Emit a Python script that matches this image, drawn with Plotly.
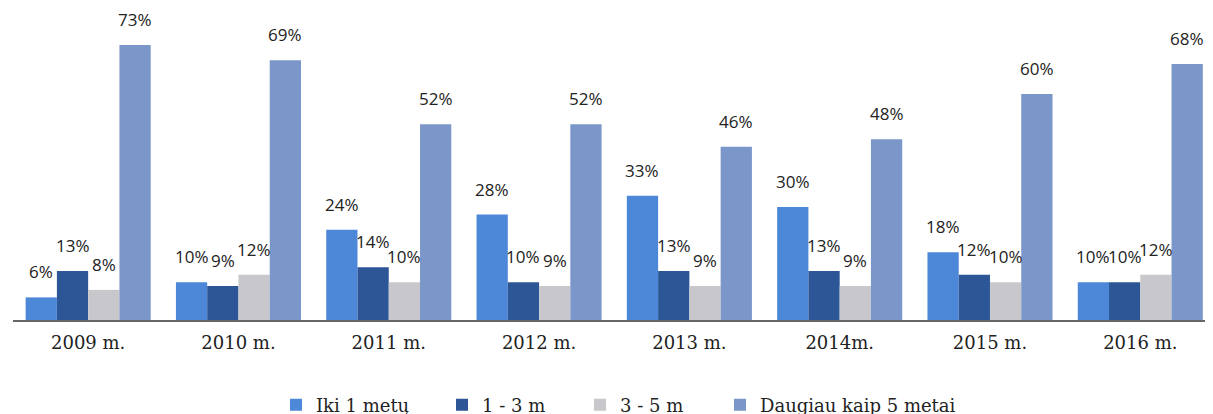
import plotly.graph_objects as go

years = ["2009 m.", "2010 m.", "2011 m.", "2012 m.", "2013 m.", "2014m.", "2015 m.", "2016 m."]
series_names = ["Iki 1 metų", "1 - 3 m", "3 - 5 m", "Daugiau kaip 5 metai"]
iki_1 = [6, 10, 24, 28, 33, 30, 18, 10]
m1_3 = [13, 9, 14, 10, 13, 13, 12, 10]
m3_5 = [8, 12, 10, 9, 9, 9, 10, 12]
daugiau_5 = [73, 69, 52, 52, 46, 48, 60, 68]

colors = ["#4d88d8", "#2c5696", "#c8c8cc", "#7b96c9"]
values = [iki_1, m1_3, m3_5, daugiau_5]
legend_ids = ["legend", "legend2", "legend3", "legend4"]
legend_fig_x = [268, 434, 572, 712]

W, H = 1213, 414
ML, MR, MT, MB = 5, 0, 10, 102
PW, PH = W - ML - MR, H - MT - MB
X_RANGE = [-0.5, 7.537]
BARGAP = 0.168

fig = go.Figure()
for name, vals, c, lid in zip(series_names, values, colors, legend_ids):
    fig.add_trace(go.Bar(
        x=years, y=vals, name=name, marker_color=c, marker_line_width=0,
        textposition="none", legend=lid,
    ))

# data labels placed above each bar of the group
unit_px = PW / (X_RANGE[1] - X_RANGE[0])
bar_px = (1 - BARGAP) * unit_px / len(values)
n = len(values)
for i, vals in enumerate(values):
    dx = (i - (n - 1) / 2) * bar_px
    for yr, v in zip(years, vals):
        fig.add_annotation(
            x=yr, y=v, xref="x", yref="y", text=f"{v}%", showarrow=False,
            xshift=dx, yshift=12, yanchor="bottom", xanchor="center",
            font=dict(family="Open Sans", size=17, color="#222"),
        )

layout_legends = {}
for lid, px in zip(legend_ids, legend_fig_x):
    layout_legends[lid] = dict(
        x=(px - ML) / PW, xanchor="left",
        y=-(397 - (H - MB)) / PH, yanchor="middle",
        font=dict(family="DejaVu Serif", size=18, color="#222"),
        itemwidth=30, bgcolor="rgba(0,0,0,0)", borderwidth=0,
    )

fig.update_layout(
    width=W, height=H,
    margin=dict(l=ML, r=MR, t=MT, b=MB, autoexpand=False),
    barmode="group", bargap=BARGAP, bargroupgap=0,
    paper_bgcolor="white", plot_bgcolor="white",
    showlegend=True,
    xaxis=dict(showline=True, linecolor="#666", linewidth=1.5,
               range=X_RANGE,
               ticks="outside", ticklen=6, tickcolor="rgba(0,0,0,0)",
               tickfont=dict(family="DejaVu Serif", size=18, color="#222")),
    yaxis=dict(range=[0, 80.2], visible=False),
    **layout_legends,
)

fig.write_html("out.html")
